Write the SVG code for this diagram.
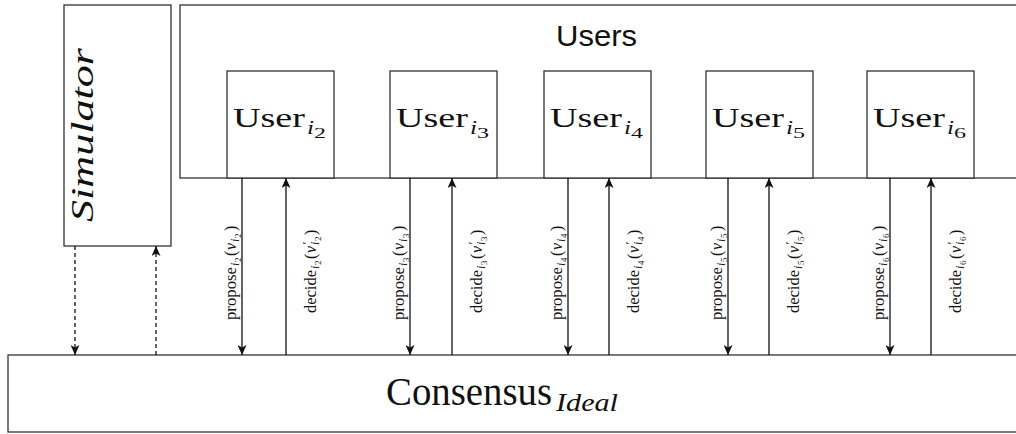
<svg xmlns="http://www.w3.org/2000/svg" width="1016" height="434" viewBox="0 0 1016 434">
  <defs>
    <marker id="arrow" markerUnits="userSpaceOnUse" markerWidth="10" markerHeight="9" refX="10" refY="4.5" orient="auto">
      <path d="M0,0 L10,4.5 L0,9 L2.5,4.5 z" fill="#111"/>
    </marker>
    <style>
      .box { fill: #fff; stroke: #333; stroke-width: 1.3; }
      .wire { fill: none; stroke: #111; stroke-width: 1.3; marker-end: url(#arrow); }
      .dash { stroke-dasharray: 4 3; }
      .serif { font-family: "Liberation Serif", "Times New Roman", serif; fill: #111; }
      .it { font-style: italic; }
      .lbl { font-size: 16px; }
      .s1 { font-size: 12px; font-style: italic; }
      .s2 { font-size: 9px; }
      .uname { font-size: 28px; }
      .usub1 { font-size: 19px; font-style: italic; }
      .usub2 { font-size: 14px; }
    </style>
  </defs>

  <rect width="1016" height="434" fill="#fff"/>

  <!-- simulator -->
  <g id="simulator">
    <rect class="box" x="64" y="5" width="107" height="241"/>
    <text class="serif it" font-family="Liberation Serif, serif" font-size="32" transform="translate(93,222) rotate(-90)" x="0" y="0" textLength="174" lengthAdjust="spacingAndGlyphs">Simulator</text>
  </g>

  <!-- users container -->
  <g id="users">
    <rect class="box" x="180" y="5" width="850" height="173"/>
    <text x="556" y="46" font-family="Liberation Sans, Arial, sans-serif" font-size="30" fill="#111" textLength="81" lengthAdjust="spacingAndGlyphs">Users</text>
  </g>

  <!-- individual users -->
  <g id="user-i2">
    <rect class="box" x="227" y="71" width="107" height="107"/>
    <text class="serif uname" x="233" y="127" textLength="72" lengthAdjust="spacingAndGlyphs">User</text>
    <text class="serif usub1" x="307" y="134" textLength="7" lengthAdjust="spacingAndGlyphs">i</text>
    <text class="serif usub2" x="314" y="138" textLength="12" lengthAdjust="spacingAndGlyphs">2</text>
  </g>
  <g id="user-i3">
    <rect class="box" x="390" y="71" width="107" height="107"/>
    <text class="serif uname" x="396" y="127" textLength="72" lengthAdjust="spacingAndGlyphs">User</text>
    <text class="serif usub1" x="470" y="134" textLength="7" lengthAdjust="spacingAndGlyphs">i</text>
    <text class="serif usub2" x="477" y="138" textLength="12" lengthAdjust="spacingAndGlyphs">3</text>
  </g>
  <g id="user-i4">
    <rect class="box" x="544" y="71" width="107" height="107"/>
    <text class="serif uname" x="550" y="127" textLength="72" lengthAdjust="spacingAndGlyphs">User</text>
    <text class="serif usub1" x="624" y="134" textLength="7" lengthAdjust="spacingAndGlyphs">i</text>
    <text class="serif usub2" x="631" y="138" textLength="12" lengthAdjust="spacingAndGlyphs">4</text>
  </g>
  <g id="user-i5">
    <rect class="box" x="706" y="71" width="107" height="107"/>
    <text class="serif uname" x="712" y="127" textLength="72" lengthAdjust="spacingAndGlyphs">User</text>
    <text class="serif usub1" x="786" y="134" textLength="7" lengthAdjust="spacingAndGlyphs">i</text>
    <text class="serif usub2" x="793" y="138" textLength="12" lengthAdjust="spacingAndGlyphs">5</text>
  </g>
  <g id="user-i6">
    <rect class="box" x="867" y="71" width="107" height="107"/>
    <text class="serif uname" x="873" y="127" textLength="72" lengthAdjust="spacingAndGlyphs">User</text>
    <text class="serif usub1" x="947" y="134" textLength="7" lengthAdjust="spacingAndGlyphs">i</text>
    <text class="serif usub2" x="954" y="138" textLength="12" lengthAdjust="spacingAndGlyphs">6</text>
  </g>

  <!-- ideal consensus functionality -->
  <g id="consensus">
    <rect class="box" x="8" y="355" width="1030" height="77"/>
    <text class="serif" font-size="39" x="386" y="405" textLength="166" lengthAdjust="spacingAndGlyphs">Consensus</text>
    <text class="serif it" font-size="26" x="556" y="411" textLength="62" lengthAdjust="spacingAndGlyphs">Ideal</text>
  </g>

  <!-- connectors -->
  <g id="connectors">
    <line class="wire dash" x1="75" y1="246" x2="75" y2="355"/>
    <line class="wire dash" x1="156" y1="355" x2="156" y2="246"/>

    <line class="wire" x1="242" y1="178" x2="242" y2="355"/>
    <line class="wire" x1="286" y1="355" x2="286" y2="178"/>
    <line class="wire" x1="410" y1="178" x2="410" y2="355"/>
    <line class="wire" x1="452" y1="355" x2="452" y2="178"/>
    <line class="wire" x1="568" y1="178" x2="568" y2="355"/>
    <line class="wire" x1="609" y1="355" x2="609" y2="178"/>
    <line class="wire" x1="728" y1="178" x2="728" y2="355"/>
    <line class="wire" x1="769" y1="355" x2="769" y2="178"/>
    <line class="wire" x1="890" y1="178" x2="890" y2="355"/>
    <line class="wire" x1="931" y1="355" x2="931" y2="178"/>
  </g>

  <!-- connector labels -->
  <g id="connector-labels" class="serif">
    <g transform="translate(236,320) rotate(-90)">
      <text class="lbl" x="0" y="0" textLength="53" lengthAdjust="spacingAndGlyphs">propose</text>
      <text class="s1" x="54" y="3">i</text><text class="s2" x="58" y="5">2</text>
      <text class="lbl" x="64" y="0">(</text><text class="lbl it" x="70" y="0">v</text>
      <text class="s1" x="78" y="3">i</text><text class="s2" x="82" y="5">2</text>
      <text class="lbl" x="89" y="0">)</text>
    </g>
    <g transform="translate(316,313) rotate(-90)">
      <text class="lbl" x="0" y="0" textLength="43" lengthAdjust="spacingAndGlyphs">decide</text>
      <text class="s1" x="44" y="3">i</text><text class="s2" x="48" y="5">2</text>
      <text class="lbl" x="54" y="0">(</text><text class="lbl it" x="60" y="0">v</text>
      <text class="s1" x="68" y="-5">′</text>
      <text class="s1" x="68" y="3">i</text><text class="s2" x="72" y="5">2</text>
      <text class="lbl" x="78" y="0">)</text>
    </g>

    <g transform="translate(404,320) rotate(-90)">
      <text class="lbl" x="0" y="0" textLength="53" lengthAdjust="spacingAndGlyphs">propose</text>
      <text class="s1" x="54" y="3">i</text><text class="s2" x="58" y="5">3</text>
      <text class="lbl" x="64" y="0">(</text><text class="lbl it" x="70" y="0">v</text>
      <text class="s1" x="78" y="3">i</text><text class="s2" x="82" y="5">3</text>
      <text class="lbl" x="89" y="0">)</text>
    </g>
    <g transform="translate(482,313) rotate(-90)">
      <text class="lbl" x="0" y="0" textLength="43" lengthAdjust="spacingAndGlyphs">decide</text>
      <text class="s1" x="44" y="3">i</text><text class="s2" x="48" y="5">3</text>
      <text class="lbl" x="54" y="0">(</text><text class="lbl it" x="60" y="0">v</text>
      <text class="s1" x="68" y="-5">′</text>
      <text class="s1" x="68" y="3">i</text><text class="s2" x="72" y="5">3</text>
      <text class="lbl" x="78" y="0">)</text>
    </g>

    <g transform="translate(562,320) rotate(-90)">
      <text class="lbl" x="0" y="0" textLength="53" lengthAdjust="spacingAndGlyphs">propose</text>
      <text class="s1" x="54" y="3">i</text><text class="s2" x="58" y="5">4</text>
      <text class="lbl" x="64" y="0">(</text><text class="lbl it" x="70" y="0">v</text>
      <text class="s1" x="78" y="3">i</text><text class="s2" x="82" y="5">4</text>
      <text class="lbl" x="89" y="0">)</text>
    </g>
    <g transform="translate(639,313) rotate(-90)">
      <text class="lbl" x="0" y="0" textLength="43" lengthAdjust="spacingAndGlyphs">decide</text>
      <text class="s1" x="44" y="3">i</text><text class="s2" x="48" y="5">4</text>
      <text class="lbl" x="54" y="0">(</text><text class="lbl it" x="60" y="0">v</text>
      <text class="s1" x="68" y="-5">′</text>
      <text class="s1" x="68" y="3">i</text><text class="s2" x="72" y="5">4</text>
      <text class="lbl" x="78" y="0">)</text>
    </g>

    <g transform="translate(722,320) rotate(-90)">
      <text class="lbl" x="0" y="0" textLength="53" lengthAdjust="spacingAndGlyphs">propose</text>
      <text class="s1" x="54" y="3">i</text><text class="s2" x="58" y="5">5</text>
      <text class="lbl" x="64" y="0">(</text><text class="lbl it" x="70" y="0">v</text>
      <text class="s1" x="78" y="3">i</text><text class="s2" x="82" y="5">5</text>
      <text class="lbl" x="89" y="0">)</text>
    </g>
    <g transform="translate(799,313) rotate(-90)">
      <text class="lbl" x="0" y="0" textLength="43" lengthAdjust="spacingAndGlyphs">decide</text>
      <text class="s1" x="44" y="3">i</text><text class="s2" x="48" y="5">5</text>
      <text class="lbl" x="54" y="0">(</text><text class="lbl it" x="60" y="0">v</text>
      <text class="s1" x="68" y="-5">′</text>
      <text class="s1" x="68" y="3">i</text><text class="s2" x="72" y="5">5</text>
      <text class="lbl" x="78" y="0">)</text>
    </g>

    <g transform="translate(884,320) rotate(-90)">
      <text class="lbl" x="0" y="0" textLength="53" lengthAdjust="spacingAndGlyphs">propose</text>
      <text class="s1" x="54" y="3">i</text><text class="s2" x="58" y="5">6</text>
      <text class="lbl" x="64" y="0">(</text><text class="lbl it" x="70" y="0">v</text>
      <text class="s1" x="78" y="3">i</text><text class="s2" x="82" y="5">6</text>
      <text class="lbl" x="89" y="0">)</text>
    </g>
    <g transform="translate(961,313) rotate(-90)">
      <text class="lbl" x="0" y="0" textLength="43" lengthAdjust="spacingAndGlyphs">decide</text>
      <text class="s1" x="44" y="3">i</text><text class="s2" x="48" y="5">6</text>
      <text class="lbl" x="54" y="0">(</text><text class="lbl it" x="60" y="0">v</text>
      <text class="s1" x="68" y="-5">′</text>
      <text class="s1" x="68" y="3">i</text><text class="s2" x="72" y="5">6</text>
      <text class="lbl" x="78" y="0">)</text>
    </g>
  </g>
</svg>
